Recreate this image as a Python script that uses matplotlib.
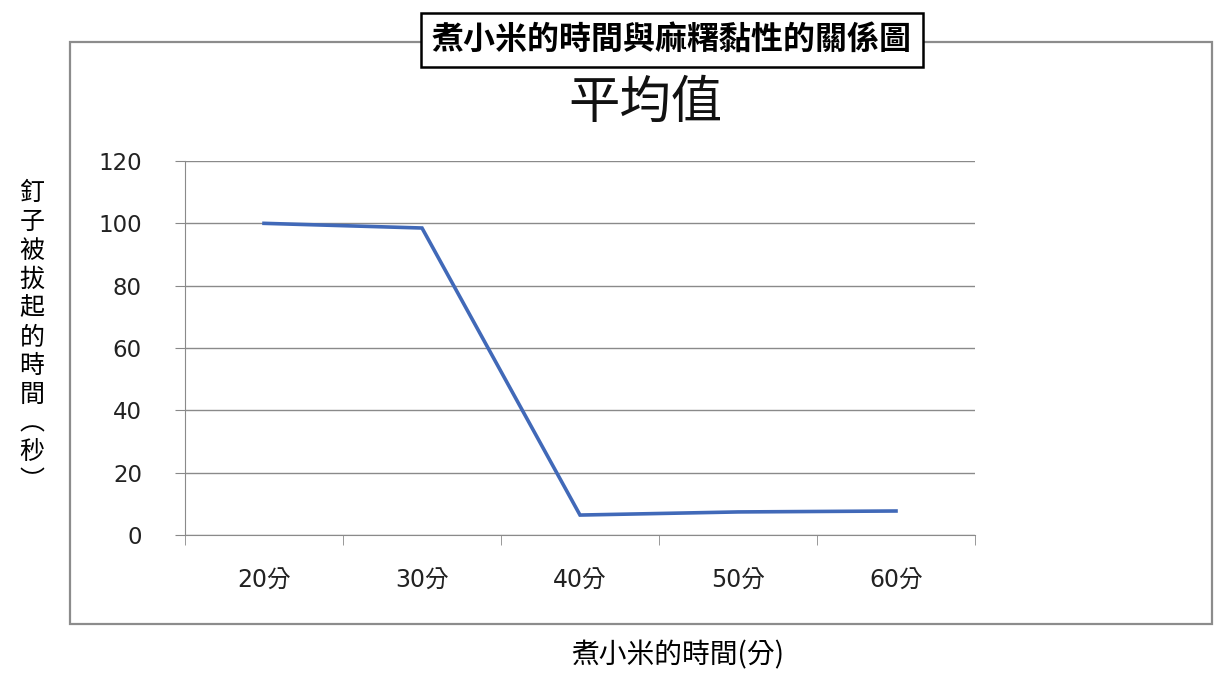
import matplotlib.pyplot as plt
from matplotlib.patches import Rectangle

plt.rcParams['font.family'] = ['Noto Sans CJK TC', 'DejaVu Sans']

# data
categories = ['20分', '30分', '40分', '50分', '60分']
values = [100, 98.5, 6.4, 7.4, 7.7]
y_ticks = [0, 20, 40, 60, 80, 100, 120]

main_title = '煮小米的時間與麻糬黏性的關係圖'
chart_title = '平均值'
y_label = '釘子被拔起的時間︵秒︶'
x_label = '煮小米的時間(分)'


def main():
    fig = plt.figure(figsize=(12.16, 6.73), dpi=100)

    # outer gray frame of the pasted chart
    fig.patches.append(Rectangle((70 / 1216, 49 / 673), 1142 / 1216, 582 / 673,
                                 transform=fig.transFigure, fill=False,
                                 edgecolor='#8c8c8c', linewidth=1.6))

    ax = fig.add_axes([185 / 1216, 138 / 673, 790 / 1216, 374 / 673])
    x = list(range(len(categories)))
    ax.plot(x, values, color='#4169B8', linewidth=2.6, solid_joinstyle='miter')

    tick_font = ['DejaVu Sans', 'Noto Sans CJK TC']
    ax.set_xlim(-0.5, len(categories) - 0.5)
    ax.set_ylim(0, 120)
    ax.set_yticks(y_ticks)
    ax.set_yticklabels([str(v) for v in y_ticks], family=tick_font,
                       fontsize=16.5, color='#222222')
    ax.set_xticks(x)
    ax.set_xticklabels(categories, family=tick_font, fontsize=17, color='#222222')
    ax.set_xticks([i - 0.5 for i in range(len(categories) + 1)], minor=True)
    ax.tick_params(axis='x', which='major', length=0, pad=24)
    ax.tick_params(axis='x', which='minor', length=7, color='#888888', direction='out')
    ax.tick_params(axis='y', length=7, color='#888888', pad=24)
    ax.grid(axis='y', color='#8a8a8a', linewidth=1)
    for side in ['top', 'right']:
        ax.spines[side].set_visible(False)
    for side in ['left', 'bottom']:
        ax.spines[side].set_color('#8a8a8a')
    ax.set_axisbelow(True)

    fig.text(645 / 1216, 1 - 103 / 673, chart_title, fontsize=37,
             ha='center', va='center', color='#111111')

    fig.text(672 / 1216, 1 - 40 / 673, main_title, fontsize=23, fontweight='bold',
             ha='center', va='center',
             bbox=dict(boxstyle='square,pad=0.34', facecolor='white',
                       edgecolor='black', linewidth=1.8))

    fig.text(32 / 1216, 1 - 337 / 673, '\n'.join(y_label), fontsize=18,
             ha='center', va='center', linespacing=1.14)

    fig.text(678 / 1216, 1 - 655 / 673, x_label, fontsize=20,
             ha='center', va='center')

    fig.savefig('out.png', dpi=100)


if __name__ == '__main__':
    main()
